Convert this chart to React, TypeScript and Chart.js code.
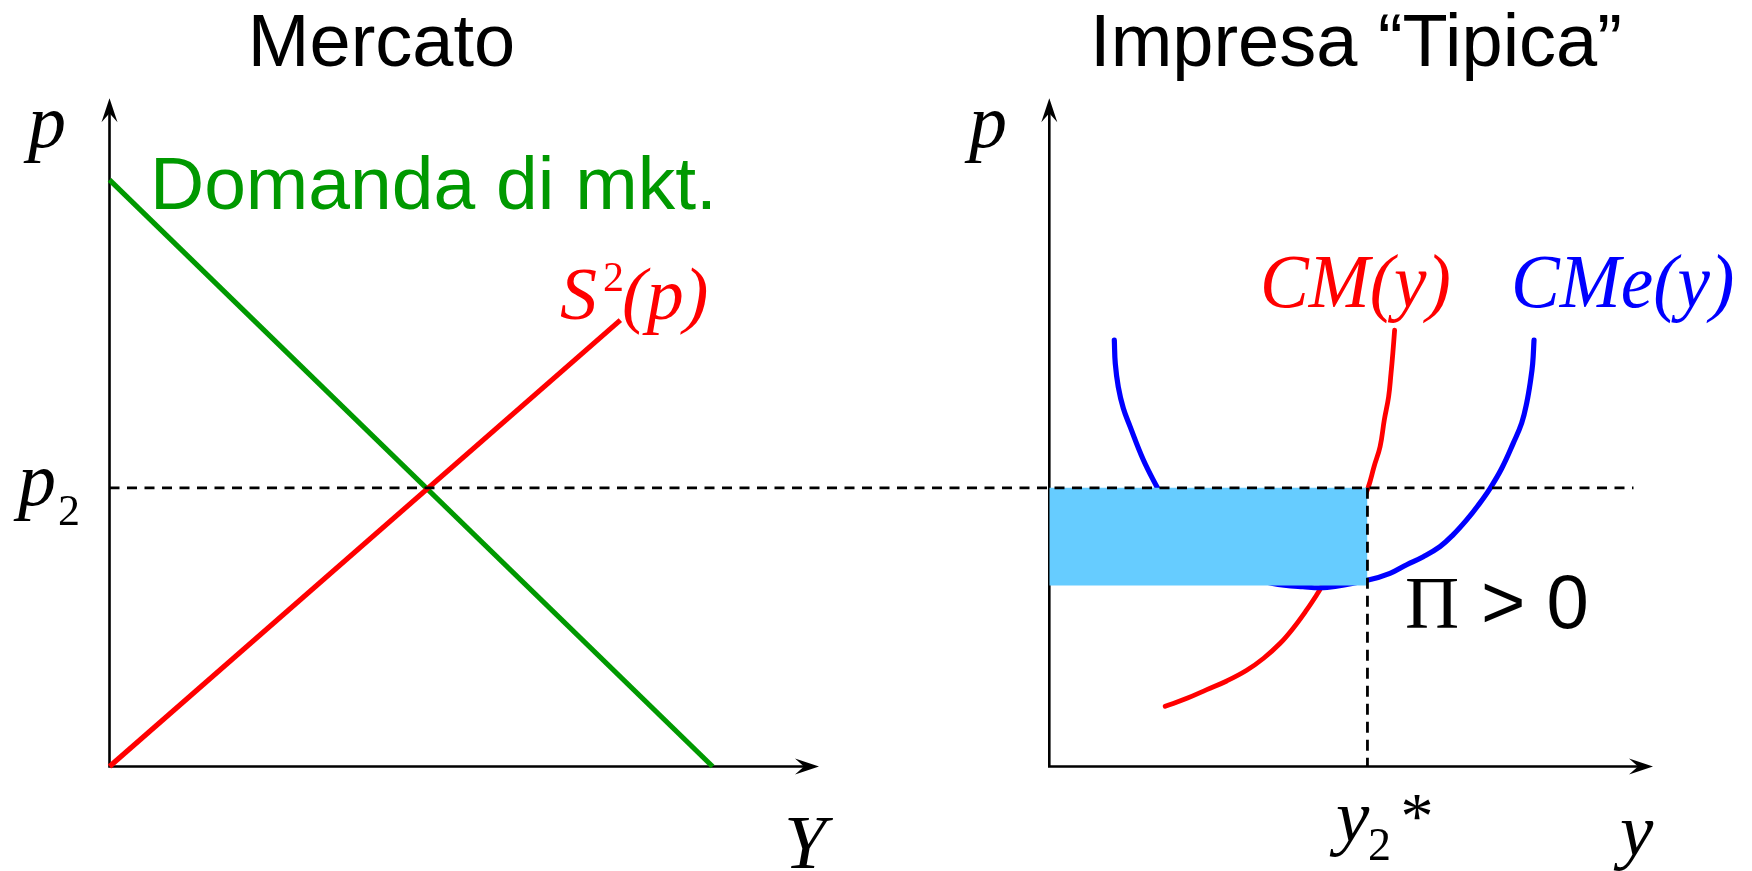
import { useEffect, useRef } from "react";
import { Chart, registerables } from "chart.js";

Chart.register(...registerables);

// ---- Market panel (Mercato) ----
const demandQty = [0, 8.5];
const demandPrice = [8.78, 0];
const supplyQty = [0, 7.2];
const supplyPrice = [0, 6.68];

// Equilibrium price p2 shared by both panels
const P2 = 4.17;
// How far right the p2 guide reaches, in market-panel units
const P2_GUIDE_END = 21.48;

// ---- Typical firm panel (Impresa "Tipica") ----
const Y2_STAR = 5.27;
const PROFIT_FLOOR = 2.71;

// Marginal cost CM(y)
const mcQty = [
  1.92, 2.28, 2.61, 2.94, 3.27, 3.55, 3.82, 4.04, 4.26, 4.43, 4.51, 4.75, 5.0, 5.28, 5.38, 5.48, 5.55, 5.62,
  5.66, 5.69, 5.72,
];
const mcPrice = [
  0.9, 1.02, 1.15, 1.28, 1.44, 1.62, 1.84, 2.07, 2.34, 2.57, 2.69, 3.08, 3.55, 4.17, 4.49, 4.79, 5.19, 5.53,
  5.88, 6.18, 6.53,
];

// Average cost CMe(y)
const acQty = [
  1.077, 1.093, 1.143, 1.226, 1.337, 1.557, 1.779, 2.0, 2.3, 2.7, 3.2, 3.7, 4.2, 4.6, 5.284, 5.643, 5.92,
  6.195, 6.471, 6.692, 6.913, 7.105, 7.299, 7.493, 7.686, 7.825, 7.908, 7.974, 8.007, 8.029,
];
const acPrice = [
  6.38, 6.03, 5.68, 5.36, 5.09, 4.59, 4.19, 3.82, 3.42, 3.08, 2.86, 2.74, 2.69, 2.68, 2.79, 2.89, 3.02, 3.14,
  3.29, 3.47, 3.69, 3.91, 4.16, 4.46, 4.84, 5.14, 5.44, 5.79, 6.03, 6.38,
];

// Axis length of each panel, in data units
const AXIS_LEN = 10;
const P_MAX = 10;

// ---- Layout (canvas pixels) ----
const W = 1752;
const H = 871;
const PLOT = { left: 109.5, right: 1653, top: 98.3, bottom: 766.5 };
const MARKET_AXIS_TIP = 819;
const FIRM_ORIGIN = 1049.3;

const marketMax = (AXIS_LEN * (PLOT.right - PLOT.left)) / (MARKET_AXIS_TIP - PLOT.left);
const firmPxPerUnit = (PLOT.right - FIRM_ORIGIN) / AXIS_LEN;
const firmMin = -(FIRM_ORIGIN - PLOT.left) / firmPxPerUnit;

const GREEN = "#009900";
const RED = "#ff0000";
const BLUE = "#0000ff";
const PROFIT_FILL = "#66ccff";
const SANS = '"Liberation Sans", Arimo, Arial, sans-serif';
const SERIF = '"Liberation Serif", Tinos, "Times New Roman", serif';

const zip = (xs: number[], ys: number[]) => xs.map((x, i) => ({ x, y: ys[i] }));

function drawText(
  ctx: CanvasRenderingContext2D,
  s: string,
  x: number,
  y: number,
  font: string,
  color: string,
  align: CanvasTextAlign = "left",
  sx = 1
) {
  ctx.save();
  ctx.font = font;
  ctx.fillStyle = color;
  ctx.textAlign = align;
  ctx.textBaseline = "alphabetic";
  ctx.translate(x, y);
  ctx.scale(sx, 1);
  ctx.fillText(s, 0, 0);
  ctx.restore();
}

function arrowHead(ctx: CanvasRenderingContext2D, x: number, y: number, dir: "up" | "right") {
  const L = 24;
  const Wd = 8;
  const N = 15;
  ctx.save();
  ctx.translate(x, y);
  if (dir === "up") ctx.rotate(-Math.PI / 2);
  ctx.beginPath();
  ctx.moveTo(0, 0);
  ctx.lineTo(-L, -Wd);
  ctx.lineTo(-N, 0);
  ctx.lineTo(-L, Wd);
  ctx.closePath();
  ctx.fillStyle = "#000";
  ctx.fill();
  ctx.restore();
}

// Axes with arrow tips, drawn under the curves
const axesPlugin = {
  id: "panelAxes",
  beforeDatasetsDraw(chart: any) {
    const ctx: CanvasRenderingContext2D = chart.ctx;
    const y = chart.scales.y;
    const panels = [chart.scales.xM, chart.scales.xF];
    ctx.save();
    ctx.strokeStyle = "#000";
    ctx.lineWidth = 2.6;
    for (const xs of panels) {
      const x0 = xs.getPixelForValue(0);
      const x1 = xs.getPixelForValue(AXIS_LEN);
      const y0 = y.getPixelForValue(0);
      const y1 = y.getPixelForValue(P_MAX);
      ctx.beginPath();
      ctx.moveTo(x0, y0 + 1.3);
      ctx.lineTo(x0, y1 + 10);
      ctx.moveTo(x0 - 1.3, y0);
      ctx.lineTo(x1 - 10, y0);
      ctx.stroke();
      arrowHead(ctx, x0, y1, "up");
      arrowHead(ctx, x1, y0, "right");
    }
    ctx.restore();
  },
};

// Titles and curve labels
const labelsPlugin = {
  id: "panelLabels",
  afterDraw(chart: any) {
    const ctx: CanvasRenderingContext2D = chart.ctx;
    const y = chart.scales.y;
    const xF = chart.scales.xF;
    const p2px = y.getPixelForValue(P2);
    const ystarPx = xF.getPixelForValue(Y2_STAR);

    drawText(ctx, "Mercato", 381.5, 66, `74px ${SANS}`, "#000", "center");
    drawText(ctx, "Impresa \u201CTipica\u201D", 1356, 66, `74px ${SANS}`, "#000", "center");

    drawText(ctx, "Domanda di mkt.", 150, 209, `75px ${SANS}`, GREEN);

    drawText(ctx, "S", 560, 319, `italic 74px ${SERIF}`, RED);
    drawText(ctx, "2", 603, 291, `42px ${SERIF}`, RED);
    drawText(ctx, "(p)", 622, 319, `italic 74px ${SERIF}`, RED);

    drawText(ctx, "CM(y)", 1260, 307, `italic 77px ${SERIF}`, RED, "left", 0.95);
    drawText(ctx, "CMe(y)", 1511, 307, `italic 77px ${SERIF}`, BLUE, "left", 0.95);

    drawText(ctx, "p", 28, 147, `italic 76px ${SERIF}`, "#000");
    drawText(ctx, "p", 969, 147, `italic 76px ${SERIF}`, "#000");

    drawText(ctx, "p", 18, p2px + 17, `italic 76px ${SERIF}`, "#000");
    drawText(ctx, "2", 58, p2px + 37, `44px ${SERIF}`, "#000");

    drawText(ctx, "Y", 784, 868, `italic 76px ${SERIF}`, "#000");

    drawText(ctx, "y", ystarPx - 31.5, 841, `italic 75px ${SERIF}`, "#000");
    drawText(ctx, "2", ystarPx + 0.5, 860, `46px ${SERIF}`, "#000");
    drawText(ctx, "*", ystarPx + 33, 838, `66px ${SERIF}`, "#000");

    drawText(ctx, "y", 1620, 855, `italic 75px ${SERIF}`, "#000");

    drawText(ctx, "\u03A0", 1405, 628, `75px ${SERIF}`, "#000");
    drawText(ctx, "> 0", 1481, 628, `76px ${SANS}`, "#000");
  },
};

export default function App() {
  const canvasRef = useRef<HTMLCanvasElement | null>(null);

  useEffect(() => {
    const canvas = canvasRef.current;
    if (!canvas) return;

    const line = (extra: any) => ({
      type: "line",
      pointRadius: 0,
      fill: false,
      clip: false,
      tension: 0.4,
      borderCapStyle: "round",
      borderJoinStyle: "round",
      ...extra,
    });

    const chart = new Chart(canvas, {
      type: "line",
      data: {
        datasets: [
          line({
            label: "y2*",
            xAxisID: "xF",
            data: [
              { x: Y2_STAR, y: P2 },
              { x: Y2_STAR, y: 0 },
            ],
            borderColor: "#000",
            borderWidth: 2.8,
            borderDash: [11, 7],
            borderCapStyle: "butt",
            tension: 0,
          }),
          line({
            label: "p2",
            xAxisID: "xM",
            data: [
              { x: 0, y: P2 },
              { x: P2_GUIDE_END, y: P2 },
            ],
            borderColor: "#000",
            borderWidth: 2.8,
            borderDash: [10, 7.5],
            borderCapStyle: "butt",
            tension: 0,
          }),
          line({
            label: "Profitto",
            xAxisID: "xF",
            data: [
              { x: 0, y: P2 },
              { x: Y2_STAR, y: P2 },
            ],
            borderColor: "rgba(0,0,0,0)",
            borderWidth: 0,
            tension: 0,
            backgroundColor: PROFIT_FILL,
            fill: { target: { value: PROFIT_FLOOR }, above: PROFIT_FILL, below: PROFIT_FILL },
          }),
          line({
            label: "CMe(y)",
            xAxisID: "xF",
            data: zip(acQty, acPrice),
            borderColor: BLUE,
            borderWidth: 5.2,
          }),
          line({
            label: "CM(y)",
            xAxisID: "xF",
            data: zip(mcQty, mcPrice),
            borderColor: RED,
            borderWidth: 4.8,
          }),
          line({
            label: "S2(p)",
            xAxisID: "xM",
            data: zip(supplyQty, supplyPrice),
            borderColor: RED,
            borderWidth: 5.2,
            borderCapStyle: "butt",
            tension: 0,
          }),
          line({
            label: "Domanda di mkt.",
            xAxisID: "xM",
            data: zip(demandQty, demandPrice),
            borderColor: GREEN,
            borderWidth: 5.2,
            borderCapStyle: "butt",
            tension: 0,
          }),
        ] as any,
      },
      options: {
        responsive: false,
        animation: false,
        devicePixelRatio: 1,
        events: [],
        layout: {
          padding: {
            left: PLOT.left,
            right: W - PLOT.right,
            top: PLOT.top,
            bottom: H - PLOT.bottom,
          },
        },
        scales: {
          xM: { type: "linear", display: false, min: 0, max: marketMax },
          xF: { type: "linear", display: false, min: firmMin, max: AXIS_LEN },
          y: { type: "linear", display: false, min: 0, max: P_MAX },
        },
        plugins: {
          legend: { display: false },
          tooltip: { enabled: false },
          title: { display: false },
        },
      } as any,
      plugins: [axesPlugin, labelsPlugin],
    });

    return () => chart.destroy();
  }, []);

  return (
    <div style={{ position: "absolute", left: 0, top: 0, width: W, height: H, background: "#fff" }}>
      <canvas ref={canvasRef} width={W} height={H} style={{ display: "block", width: W, height: H }} />
    </div>
  );
}
